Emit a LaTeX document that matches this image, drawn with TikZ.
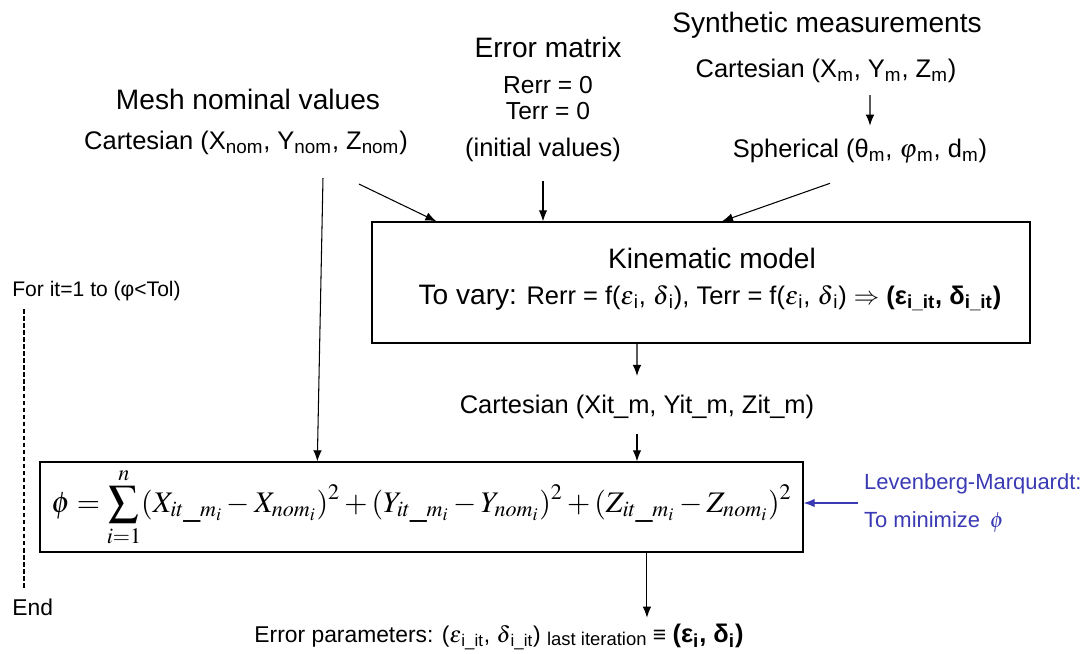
\documentclass[tikz,border=0pt]{standalone}
\usepackage{mathptmx}
\usepackage[no-math]{fontspec}
\setmainfont{Liberation Sans}
\usetikzlibrary{arrows.meta,positioning}
\definecolor{lmblue}{HTML}{3A3AB4}
\newcommand{\sbs}[1]{\textsubscript{#1}}

\begin{document}
\begin{tikzpicture}[
  x=0.02cm, y=-0.02cm,
  head/.style={font=\fontsize{16}{18}\selectfont},
  txt/.style={font=\fontsize{14.5}{17}\selectfont},
  frame/.style={draw,line width=0.8pt,inner sep=0pt},
  arr/.style={-{Latex[length=2.2mm,width=1.7mm]},line width=0.6pt}
]
  \useasboundingbox (0,0) rectangle (1089,653);

  % inputs
  \node[head] (mesh) at (248,99) {Mesh nominal values};
  \node[txt] (cnom) at (246,143) {Cartesian (X\sbs{nom}, Y\sbs{nom}, Z\sbs{nom})};

  \node[head] (errm) at (548,47) {Error matrix};
  \node[txt,align=center,font=\fontsize{14}{14.5}\selectfont] (rt) at (548,98) {Rerr = 0\\Terr = 0};
  \node[txt] (init) at (543,150) {(initial values)};

  \node[head] (synth) at (827,25) {Synthetic measurements};
  \node[txt] (cartm) at (826,71) {Cartesian (X\sbs{m}, Y\sbs{m}, Z\sbs{m})};
  \node[txt] (sph) at (860,151) {Spherical (θ\sbs{m}, $\varphi$\sbs{m}, d\sbs{m})};
  \draw[arr] ([xshift=0.88cm,yshift=-0.12cm]cartm.south) -- ([xshift=0.2cm,yshift=0.14cm]sph.north);

  % kinematic model
  \node[frame,minimum width=13.16cm,minimum height=2.42cm] (kin) at (701,282.5) {};
  \node[head] (kinttl) at (712,258) {Kinematic model};
  \node[txt] (vary) at (710,298) {{\fontsize{16}{18}\selectfont To vary:} Rerr = f($\varepsilon$\sbs{i}, $\delta$\sbs{i}), Terr = f($\varepsilon$\sbs{i}, $\delta$\sbs{i}) $\Rightarrow$ \textbf{(ε\sbs{i\_it}, δ\sbs{i\_it})}};

  \draw[arr] ([xshift=-1.1cm,yshift=-0.46cm]cnom.south east) -- ([xshift=1.3cm]kin.north west);
  \draw[arr] ([yshift=-0.26cm]init.south) -- (init.south |- kin.north);
  \draw[arr] ([xshift=-0.6cm,yshift=-0.28cm]sph.south) -- ([xshift=0.42cm]kin.north);

  \node[txt] (cit) at (637,407) {Cartesian (Xit\_m, Yit\_m, Zit\_m)};
  \draw[arr] ([xshift=-1.28cm]kin.south) -- ([yshift=0.26cm]cit.north);

  % objective function
  \node[frame,minimum width=15.26cm,minimum height=1.8cm,font=\fontsize{17}{20}\selectfont] (phi) at (421.5,507)
    {$\displaystyle \phi = \sum_{i=1}^{n} (X_{it\_m_i} - X_{nom_i})^2 + (Y_{it\_m_i} - Y_{nom_i})^2 + (Z_{it\_m_i} - Z_{nom_i})^2$};
  \draw[arr] ([yshift=-0.18cm]cit.south) -- (cit.south |- phi.north);
  \draw[arr] ([xshift=1.54cm,yshift=-0.34cm]cnom.south) -- ([xshift=5.56cm]phi.north west);

  \node[anchor=west,align=left,text=lmblue,font=\fontsize{12.5}{22}\selectfont] (lm) at (858,503)
    {Levenberg-Marquardt:\\To minimize \,$\phi$};
  \draw[arr,lmblue] (lm.west) -- (lm.west -| phi.east);

  % iteration loop
  \node[anchor=west,inner sep=0pt,font=\fontsize{12}{14}\selectfont] (for) at (12,291) {For it=1 to (φ<Tol)};
  \node[anchor=west,inner sep=0pt,font=\fontsize{13}{15}\selectfont] (end) at (12,607) {End};
  \draw[line width=0.6pt,dash pattern=on 2.5pt off 1.5pt] ([xshift=0.24cm,yshift=-0.16cm]for.south west) -- ([xshift=0.24cm,yshift=0.18cm]end.north west);

  % result
  \node[font=\fontsize{13}{16}\selectfont] (res) at (499,637)
    {Error parameters: ($\varepsilon$\sbs{i\_it}, $\delta$\sbs{i\_it}) \raisebox{-0.3ex}{\fontsize{10.5}{13}\selectfont last iteration} ≡ \textbf{\fontsize{14.5}{17}\selectfont (ε\sbs{i}, δ\sbs{i})}};
  \draw[arr] ([xshift=4.51cm]phi.south) -- ([xshift=4.51cm]phi.south |- res.north);
\end{tikzpicture}
\end{document}
